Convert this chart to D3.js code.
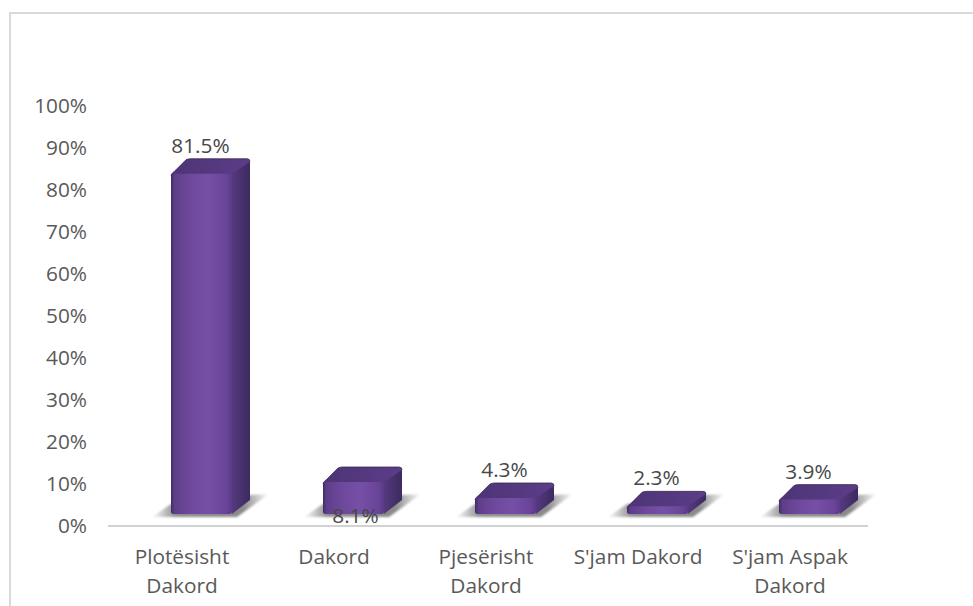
<!DOCTYPE html>
<html><head><meta charset="utf-8">
<script src="https://cdn.jsdelivr.net/npm/d3@7"></script>
<style>html,body{margin:0;padding:0;background:#fff}svg{display:block}</style></head>
<body><svg id="c" width="973" height="606"></svg>
<script>
const categories=[["Plotësisht","Dakord"],["Dakord"],["Pjesërisht","Dakord"],["S'jam Dakord"],["S'jam Aspak","Dakord"]];
const values=[81.5,8.1,4.3,2.3,3.9];
const yTicks=[0,10,20,30,40,50,60,70,80,90,100];
const font="'Open Sans',sans-serif";
const fs=20.8;
const svg=d3.select("#c");
const x=d3.scaleBand().domain(d3.range(values.length)).range([108,868]);
const y=d3.scaleLinear().domain([0,100]).range([526,106]);
const defs=svg.append("defs");
function grad(id,stops,x2=1,y2=0){
  const g=defs.append("linearGradient").attr("id",id).attr("x1",0).attr("y1",0).attr("x2",x2).attr("y2",y2);
  stops.forEach(s=>g.append("stop").attr("offset",s[0]).attr("stop-color",s[1]));
}
grad("front",[[0,"#3f2a63"],[0.05,"#5d3d88"],[0.25,"#6b4698"],[0.6,"#7650a6"],[0.9,"#69459a"],[1,"#5a3b85"]]);
grad("top",[[0,"#4d3476"],[1,"#5b3d88"]],1,0);
grad("side",[[0,"#553a7e"],[1,"#3c2a5e"]],1,0);
grad("shadow",[[0,"#ffffff"],[0.2,"#8f8f8f"],[0.78,"#8a8a8a"],[1,"#ffffff"]],1,0);
defs.append("filter").attr("id","blur").append("feGaussianBlur").attr("stdDeviation",1.2);
svg.append("path").attr("d","M10,606 L10,13 L973,13").attr("fill","none").attr("stroke","#d9d9d9").attr("stroke-width",2);
const ya=svg.append("g").attr("transform","translate(87,0)")
  .call(d3.axisLeft(y).tickValues(yTicks).tickFormat(d=>d+"%").tickSize(0).tickPadding(0));
ya.select(".domain").remove();
ya.selectAll("text").attr("font-family",font).attr("font-size",fs).attr("fill","#595959");
svg.append("line").attr("x1",108).attr("x2",868).attr("y1",y(0)).attr("y2",y(0)).attr("stroke","#a6a6a6").attr("stroke-width",1.2);
const dx=18,dy=15,fw=61;
const floor=y(0)-12;
const L=i=>x(i)+63, R=i=>L(i)+fw, T=d=>y(d)-10;
const g=svg.selectAll("g.bar").data(values).join("g").attr("class","bar");
g.append("path").attr("d",(d,i)=>{
  const l=L(i),r=R(i);
  return `M${l-19},${floor+3} L${l},${floor-10} L${r+dx},${floor-19} L${r+37},${floor-20} L${r+5},${floor+3} Z`;
}).attr("fill","url(#shadow)").attr("filter","url(#blur)");
g.append("path").attr("d",(d,i)=>{
  const l=L(i),r=R(i),t=T(d);
  return `M${l},${t+2} Q${l},${t} ${l+3},${t-2} L${l+dx-3},${t-dy+1} Q${l+dx-1},${t-dy} ${l+dx+2},${t-dy} L${r+dx-3},${t-dy} Q${r+dx},${t-dy} ${r+dx},${t-dy+3} L${r},${t+2} Z`;
}).attr("fill","url(#top)").attr("stroke","#34234f").attr("stroke-width",.7);
g.append("path").attr("d",(d,i)=>{
  const r=R(i),t=T(d);
  return `M${r},${t} L${r+dx},${t-dy+3} L${r+dx},${floor-dy+1} L${r},${floor} Z`;
}).attr("fill","url(#side)");
g.append("rect").attr("x",(d,i)=>L(i)).attr("y",T).attr("width",fw).attr("height",d=>floor-T(d)).attr("rx",2.5)
  .attr("fill","url(#front)");
g.append("text").attr("x",(d,i)=>L(i)+fw/2+(d===8.1?2:-1)).attr("y",d=>d===8.1?523:T(d)-dy-6)
  .attr("text-anchor","middle").attr("font-family",font).attr("font-size",fs).attr("fill","#484848")
  .text(d=>d.toFixed(1)+"%");
const xl=svg.selectAll("text.cat").data(categories).join("text").attr("class","cat")
  .attr("font-family",font).attr("font-size",fs).attr("fill","#595959").attr("text-anchor","middle");
xl.selectAll("tspan").data((d,i)=>d.map(t=>({t,i}))).join("tspan")
  .attr("x",d=>x(d.i)+x.bandwidth()/2-2).attr("y",(d,j)=>564+j*29).text(d=>d.t);
</script></body></html>
